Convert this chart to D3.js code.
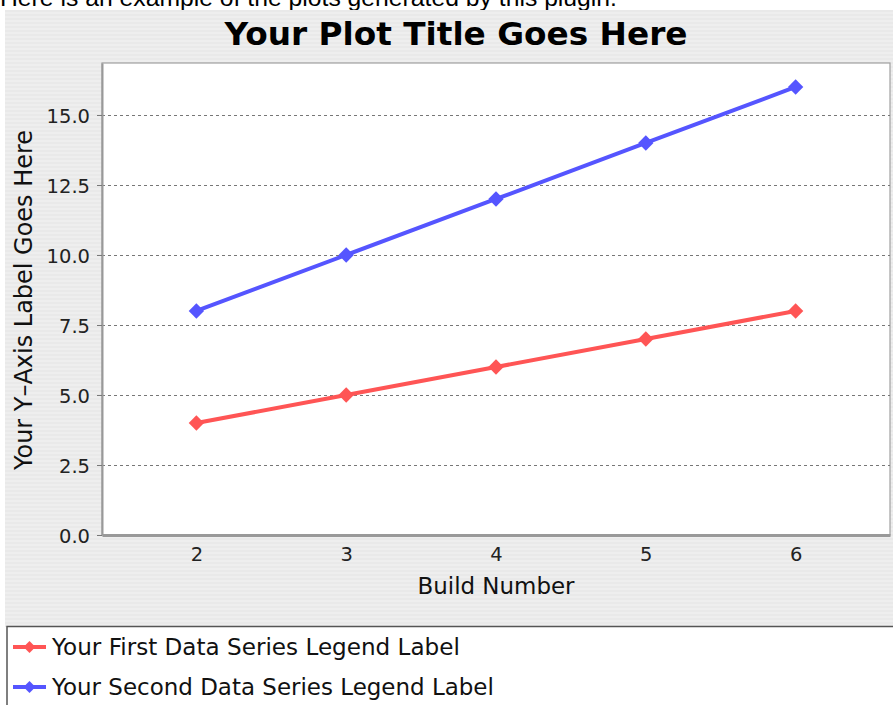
<!DOCTYPE html>
<html>
<head>
<meta charset="utf-8">
<script src="https://cdn.jsdelivr.net/npm/d3@7"></script>
<style>
html,body{margin:0;padding:0;background:#fff;overflow:hidden;}
svg{display:block;}
</style>
</head>
<body>
<svg id="chart" width="893" height="705"></svg>
<script>
// ---- data ----
const builds = [2, 3, 4, 5, 6];
const firstSeries = [4, 5, 6, 7, 8];
const secondSeries = [8, 10, 12, 14, 16];
const seriesNames = ["Your First Data Series Legend Label", "Your Second Data Series Legend Label"];
const yTicks = [0, 2.5, 5, 7.5, 10, 12.5, 15];
const xTicks = [2, 3, 4, 5, 6];
const caption = "Here is an example of the plots generated by this plugin.";
const title = "Your Plot Title Goes Here";
const xLabel = "Build Number";
const yLabel = "Your Y\u2013Axis Label Goes Here";

const colors = ["#ff5555", "#5555ff"];
const svg = d3.select("#chart");
const W = 893, H = 705;

function fit(sel, target) {
  const n = sel.node();
  const fs = parseFloat(sel.attr("font-size"));
  const len = n.getComputedTextLength();
  sel.attr("font-size", (fs * target / len).toFixed(2));
}

// stripe pattern
const defs = svg.append("defs");
const pat = defs.append("pattern").attr("id", "stripes").attr("patternUnits", "userSpaceOnUse")
  .attr("width", 8).attr("height", 4);
pat.append("rect").attr("width", 8).attr("height", 4).attr("fill", "#eeeeee");
pat.append("rect").attr("y", 2).attr("width", 8).attr("height", 2).attr("fill", "#e9e9e9");

// caption (cut off at top, as in the reference)
const cap = svg.append("text").attr("x", 0).attr("y", 6)
  .attr("font-family", "Liberation Sans, Arial, sans-serif").attr("font-size", 20)
  .attr("fill", "#000").text(caption);
fit(cap, 617);

// panel background
svg.append("rect").attr("x", 5).attr("y", 10).attr("width", W - 5).attr("height", 617)
  .attr("fill", "url(#stripes)");

const font = "DejaVu Sans, Verdana, sans-serif";

// title
const t = svg.append("text").attr("x", 456).attr("y", 45).attr("text-anchor", "middle")
  .attr("font-family", font).attr("font-weight", "bold").attr("font-size", 30)
  .attr("fill", "#000").text(title);
fit(t, 463);

// plot area
const L = 102, R = 890, T = 63, B = 535;
const x = d3.scaleLinear().domain([1.37, 6.63]).range([L, R]);
const y = d3.scaleLinear().domain([0, 16.857]).range([B, T]);

svg.append("rect").attr("x", L).attr("y", T).attr("width", R - L).attr("height", B - T)
  .attr("fill", "#fff").attr("stroke", "#a0a0a0").attr("stroke-width", 1.2);

// grid
svg.append("g").selectAll("line").data(yTicks.filter(d => d > 0)).join("line")
  .attr("x1", L).attr("x2", R).attr("y1", d => Math.round(y(d)) + 0.5).attr("y2", d => Math.round(y(d)) + 0.5)
  .attr("stroke", "#777").attr("stroke-width", 1).attr("stroke-dasharray", "3,3");

// axes
const yAxis = svg.append("g").attr("transform", `translate(${L},0)`)
  .call(d3.axisLeft(y).tickValues(yTicks).tickFormat(d3.format(".1f")).tickSizeInner(5).tickSizeOuter(0).tickPadding(7));
yAxis.select(".domain").attr("stroke", "#999").attr("stroke-width", 2);
yAxis.selectAll(".tick line").attr("stroke", "#777");
yAxis.selectAll("text").attr("font-family", font).attr("font-size", 19.5).attr("fill", "#222").attr("dy", "0.36em");

const xAxis = svg.append("g").attr("transform", `translate(0,${B})`)
  .call(d3.axisBottom(x).tickValues(xTicks).tickFormat(d3.format("d")).tickSize(0).tickPadding(12));
xAxis.select(".domain").attr("stroke", "#999").attr("stroke-width", 3);
xAxis.selectAll("text").attr("font-family", font).attr("font-size", 19.5).attr("fill", "#222");

// axis labels
const xl = svg.append("text").attr("x", 496).attr("y", 594).attr("text-anchor", "middle")
  .attr("font-family", font).attr("font-size", 20).attr("fill", "#111").text(xLabel);
fit(xl, 157);
const yl = svg.append("text").attr("transform", "translate(32,300) rotate(-90)").attr("text-anchor", "middle")
  .attr("font-family", font).attr("font-size", 20).attr("fill", "#111").text(yLabel);
fit(yl, 340);

// series
const all = [firstSeries, secondSeries];
const line = d3.line().x((d, i) => x(builds[i])).y(d => y(d));
const diamond = d3.symbol().type(d3.symbolDiamond2).size(150);
all.forEach((s, k) => {
  svg.append("path").datum(s).attr("d", line).attr("fill", "none")
    .attr("stroke", colors[k]).attr("stroke-width", 4);
  svg.append("g").selectAll("path").data(s).join("path")
    .attr("transform", (d, i) => `translate(${x(builds[i])},${y(d)})`)
    .attr("d", diamond).attr("fill", colors[k]);
});

// legend
svg.append("rect").attr("x", 7).attr("y", 626.5).attr("width", W).attr("height", 100)
  .attr("fill", "#fff").attr("stroke", "#555").attr("stroke-width", 1.5);
const lg = svg.append("g");
seriesNames.forEach((name, k) => {
  const cy = 647 + k * 40;
  lg.append("line").attr("x1", 13).attr("x2", 46).attr("y1", cy).attr("y2", cy)
    .attr("stroke", colors[k]).attr("stroke-width", 4);
  lg.append("path").attr("transform", `translate(29.5,${cy})`).attr("d", d3.symbol().type(d3.symbolDiamond2).size(90))
    .attr("fill", colors[k]);
  const tx = lg.append("text").attr("x", 52).attr("y", cy + 8)
    .attr("font-family", font).attr("font-size", 22).attr("fill", "#111").text(name);
  fit(tx, k === 0 ? 408 : 442);
});
</script>
</body>
</html>
